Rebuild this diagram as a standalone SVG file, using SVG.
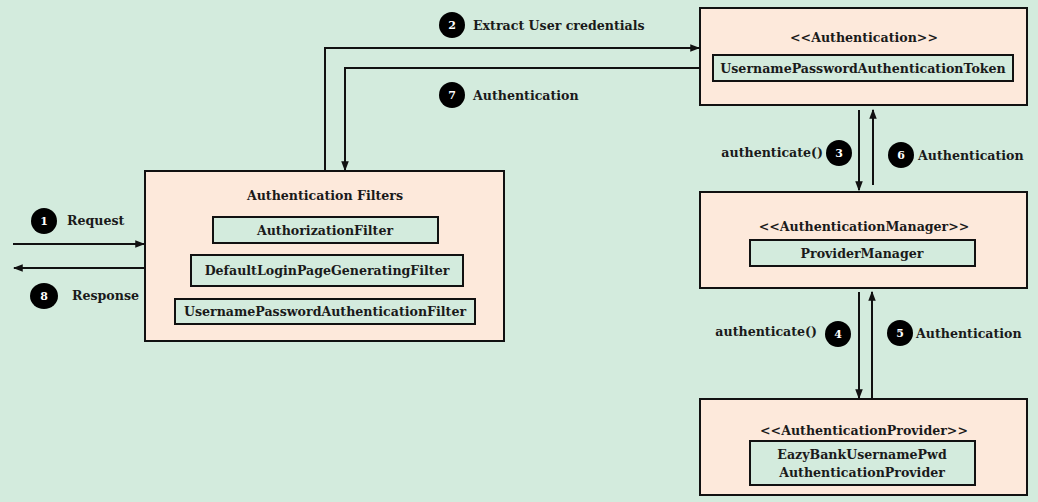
<svg xmlns="http://www.w3.org/2000/svg" width="1038" height="502" viewBox="0 0 1038 502">
<defs>
<style>
.bg{fill:#d3ebdd}
.node{fill:#fde9db;stroke:#111;stroke-width:2}
.inner{fill:#d3ebdd;stroke:#111;stroke-width:2}
text{font-family:"DejaVu Serif","Liberation Serif",serif;font-weight:bold;font-size:12.6px;fill:#1a1a1a}
.c{text-anchor:middle;dominant-baseline:central}
.l{dominant-baseline:central}
.r{text-anchor:end;dominant-baseline:central}
.badge{fill:#000}
.bt{fill:#fff;font-size:11px;text-anchor:middle;dominant-baseline:central}
.conn{fill:none;stroke:#111;stroke-width:2}
</style>
<marker id="ah" viewBox="0 0 8 8" refX="7" refY="4" markerWidth="5" markerHeight="5" orient="auto" markerUnits="strokeWidth">
<path d="M0,1 L8,4 L0,7 z" fill="#111"/>
</marker>
</defs>
<rect class="bg" x="0" y="0" width="1038" height="502"/>

<g id="filters">
<rect class="node" x="145" y="171" width="359" height="170"/>
<text class="c" x="325" y="195">Authentication Filters</text>
<rect class="inner" x="213" y="217" width="225" height="26"/>
<text class="c" x="325" y="230">AuthorizationFilter</text>
<rect class="inner" x="191" y="255" width="272" height="31"/>
<text class="c" x="327" y="270">DefaultLoginPageGeneratingFilter</text>
<rect class="inner" x="175" y="299" width="300" height="25"/>
<text class="c" x="325" y="311">UsernamePasswordAuthenticationFilter</text>
</g>

<g id="authentication">
<rect class="node" x="700" y="8" width="327" height="97"/>
<text class="c" x="864" y="37">&lt;&lt;Authentication&gt;&gt;</text>
<rect class="inner" x="713" y="55" width="300" height="26"/>
<text class="c" x="863" y="68">UsernamePasswordAuthenticationToken</text>
</g>

<g id="manager">
<rect class="node" x="700" y="192" width="327" height="96"/>
<text class="c" x="864" y="226">&lt;&lt;AuthenticationManager&gt;&gt;</text>
<rect class="inner" x="750" y="240" width="225" height="26"/>
<text class="c" x="862" y="253">ProviderManager</text>
</g>

<g id="provider">
<rect class="node" x="700" y="399" width="327" height="96"/>
<text class="c" x="864" y="430">&lt;&lt;AuthenticationProvider&gt;&gt;</text>
<rect class="inner" x="750" y="441" width="225" height="44"/>
<text class="c" x="862" y="454">EazyBankUsernamePwd</text>
<text class="c" x="862" y="472">AuthenticationProvider</text>
</g>

<g id="connectors">
<path class="conn" d="M13,244 H144" marker-end="url(#ah)"/>
<path class="conn" d="M144,268 H14" marker-end="url(#ah)"/>
<path class="conn" d="M325,171 V48 H699" marker-end="url(#ah)"/>
<path class="conn" d="M700,68 H345 V170" marker-end="url(#ah)"/>
<path class="conn" d="M859,110 V190" marker-end="url(#ah)"/>
<path class="conn" d="M873,185 V110" marker-end="url(#ah)"/>
<path class="conn" d="M859,292 V398" marker-end="url(#ah)"/>
<path class="conn" d="M872,398 V292" marker-end="url(#ah)"/>
</g>

<g id="labels">
<circle class="badge" cx="44" cy="221" r="13"/><text class="bt" x="44" y="221">1</text>
<text class="l" x="67" y="220">Request</text>
<ellipse class="badge" cx="44" cy="296" rx="14" ry="13"/><text class="bt" x="44" y="296">8</text>
<text class="l" x="72" y="295">Response</text>
<circle class="badge" cx="452" cy="25" r="13"/><text class="bt" x="452" y="25">2</text>
<text class="l" x="473" y="25">Extract User credentials</text>
<circle class="badge" cx="452" cy="95" r="13"/><text class="bt" x="452" y="95">7</text>
<text class="l" x="473" y="95">Authentication</text>
<circle class="badge" cx="839" cy="153" r="13"/><text class="bt" x="839" y="153">3</text>
<text class="r" x="823" y="152">authenticate()</text>
<circle class="badge" cx="901" cy="155" r="13"/><text class="bt" x="901" y="155">6</text>
<text class="l" x="918" y="155">Authentication</text>
<circle class="badge" cx="838" cy="334" r="13"/><text class="bt" x="838" y="334">4</text>
<text class="r" x="817" y="331">authenticate()</text>
<circle class="badge" cx="900" cy="333" r="13"/><text class="bt" x="900" y="333">5</text>
<text class="l" x="916" y="333">Authentication</text>
</g>
</svg>
